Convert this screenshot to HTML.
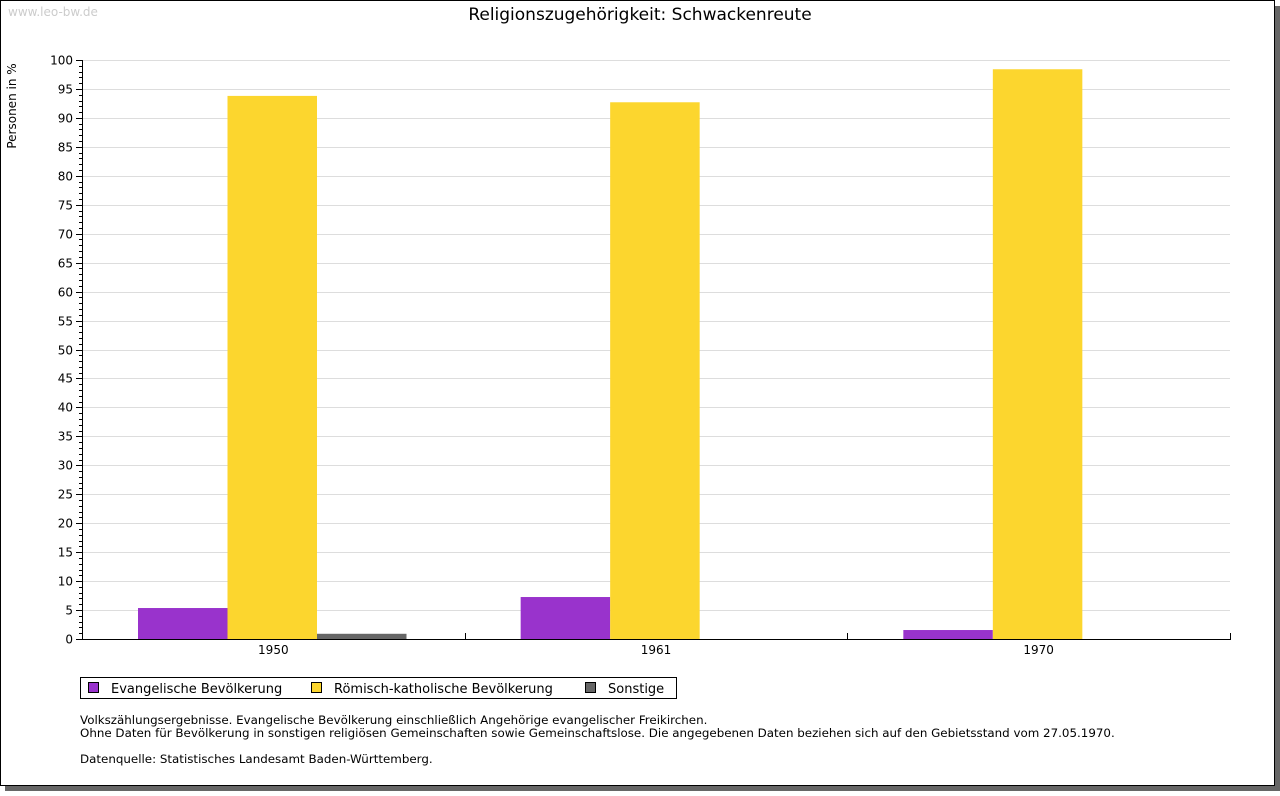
<!DOCTYPE html>
<html><head><meta charset="utf-8"><style>
body{margin:0;background:#fff;}
svg text{font-family:"DejaVu Sans","Liberation Sans",sans-serif;}
</style></head><body>
<svg id="c" width="1280" height="791" xmlns="http://www.w3.org/2000/svg">
<rect x="5" y="6" width="1275" height="785" fill="#666"/>
<rect x="0.5" y="0.5" width="1274" height="785" fill="#fff" stroke="#000"/>
<text x="8" y="16" font-size="12" fill="#ccc">www.leo-bw.de</text>
<text x="640" y="20" font-size="17" text-anchor="middle" fill="#000">Religionszugehörigkeit: Schwackenreute</text>
<text transform="translate(16,106) rotate(-90)" font-size="12" text-anchor="middle">Personen in %</text>
<g id="grid"></g><g id="bars"></g><g id="axes"></g>
<g>
<rect x="80.5" y="677.5" width="596" height="21" fill="#fff" stroke="#000"/>
<g><rect x="88.5" y="682.5" width="10" height="10" fill="#9933cc" stroke="#000"/><text x="111" y="693" font-size="13">Evangelische Bevölkerung</text></g>
<g><rect x="311.5" y="682.5" width="10" height="10" fill="#fcd62e" stroke="#000"/><text x="334" y="693" font-size="13">Römisch-katholische Bevölkerung</text></g>
<g><rect x="585.5" y="682.5" width="10" height="10" fill="#666" stroke="#000"/><text x="608" y="693" font-size="13">Sonstige</text></g>
</g>
<g font-size="11.86">
<text x="80" y="724">Volkszählungsergebnisse. Evangelische Bevölkerung einschließlich Angehörige evangelischer Freikirchen.</text>
<text x="80" y="737">Ohne Daten für Bevölkerung in sonstigen religiösen Gemeinschaften sowie Gemeinschaftslose. Die angegebenen Daten beziehen sich auf den Gebietsstand vom 27.05.1970.</text>
<text x="80" y="763">Datenquelle: Statistisches Landesamt Baden-Württemberg.</text>
</g>
</svg>
<script>
const categories=["1950","1961","1970"];
const evangelisch=[5.35,7.25,1.55];
const katholisch=[93.8,92.7,98.4];
const sonstige=[0.9,0,0];
const yTicks=[0,5,10,15,20,25,30,35,40,45,50,55,60,65,70,75,80,85,90,95,100];
const NS="http://www.w3.org/2000/svg";
const x0=82,x1=1230,y0=639,y100=60;
const ys=v=>y0-(v/100)*(y0-y100);
const gw=(x1-x0)/categories.length;
function mk(p,t,a){const e=document.createElementNS(NS,t);for(const k in a)e.setAttribute(k,a[k]);p.appendChild(e);return e;}
const grid=document.getElementById('grid'),bars=document.getElementById('bars'),axes=document.getElementById('axes');
yTicks.forEach(v=>{
 const y=Math.round(ys(v))+0.5;
 if(v>0){const l=mk(grid,'line',{x1:x0,x2:x1,y1:y,y2:y,stroke:'#ddd'});
 
 }
 const t=mk(axes,'text',{x:73,y:y+4,'font-size':12,'text-anchor':'end'});t.textContent=v;
 
 
 mk(axes,'line',{x1:x0-6,x2:x0,y1:y,y2:y,stroke:'#000'});
});
for(let v=0;v<=100;v++){const y=Math.round(ys(v))+0.5;mk(axes,'line',{x1:x0-3,x2:x0,y1:y,y2:y,stroke:'#000'});}
mk(axes,'line',{x1:x0+0.5,x2:x0+0.5,y1:y100,y2:y0,stroke:'#000'});
mk(axes,'line',{x1:x0,x2:x1+1,y1:y0+0.5,y2:y0+0.5,stroke:'#000'});
const series=[[evangelisch,'#9933cc','evangelisch'],[katholisch,'#fcd62e','katholisch'],[sonstige,'#666666','sonstige']];
const bw=89.5,pad=56;
categories.forEach((c,i)=>{
 const gx=x0+i*gw;
 series.forEach((s,j)=>{
  const v=s[0][i]; if(v<=0)return;
  const r=mk(bars,'rect',{x:gx+pad+j*bw,y:ys(v),width:bw,height:y0-ys(v),fill:s[1]});
  
  
 });
 const t=mk(axes,'text',{x:gx+gw/2,y:654,'font-size':12,'text-anchor':'middle'});t.textContent=c;
 
 
 const tx=Math.round(gx+gw)+0.5;
 mk(axes,'line',{x1:tx,x2:tx,y1:y0-6,y2:y0,stroke:'#000'});
});
</script>
</body></html>
